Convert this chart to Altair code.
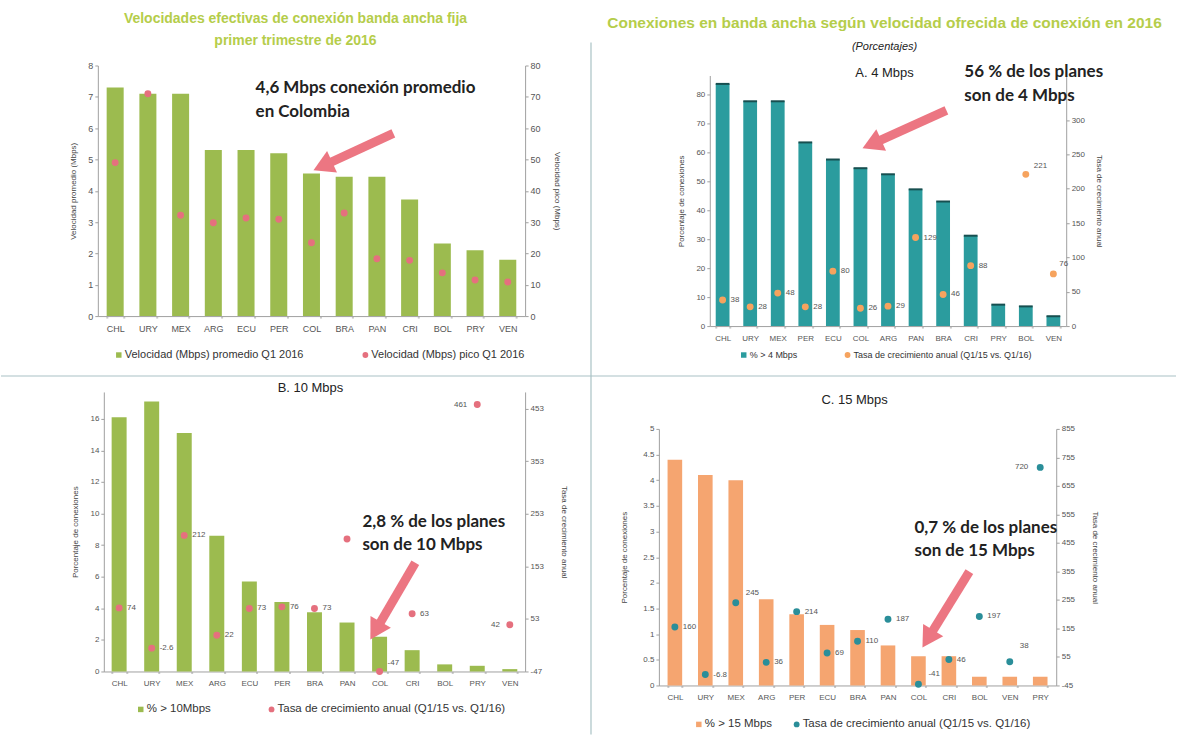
import math
import altair as alt
import pandas as pd

# ---------------- data ----------------
p1_countries = ["CHL", "URY", "MEX", "ARG", "ECU", "PER", "COL", "BRA", "PAN", "CRI", "BOL", "PRY", "VEN"]
p1_avg_mbps = [7.3, 7.1, 7.1, 5.3, 5.3, 5.2, 4.55, 4.45, 4.45, 3.72, 2.32, 2.1, 1.8]
p1_peak_mbps = [49, 71, 32.2, 29.8, 31.3, 30.9, 23.4, 32.9, 18.3, 17.8, 13.8, 11.5, 10.9]

a_countries = ["CHL", "URY", "MEX", "PER", "ECU", "COL", "ARG", "PAN", "BRA", "CRI", "PRY", "BOL", "VEN"]
a_share = [83.6, 77.6, 77.6, 63.4, 57.5, 54.5, 52.4, 47.2, 43.0, 31.2, 7.4, 6.8, 3.4]
a_growth = [38, 28, 48, 28, 80, 26, 29, 129, 46, 88, None, 221, 76]
a_labels = ["38", "28", "48", "28", "80", "26", "29", "129", "46", "88", "", "221", "76"]

b_countries = ["CHL", "URY", "MEX", "ARG", "ECU", "PER", "BRA", "PAN", "COL", "CRI", "BOL", "PRY", "VEN"]
b_share = [16.1, 17.1, 15.1, 8.6, 5.7, 4.4, 3.75, 3.1, 2.2, 1.35, 0.45, 0.36, 0.15]
b_growth = [74, -2.6, 212, 22, 73, 76, 73, 205, -47, 63, None, 461, 42]
b_labels = ["74", "-2.6", "212", "22", "73", "76", "73", "", "-47", "63", "", "461", "42"]

c_countries = ["CHL", "URY", "MEX", "ARG", "PER", "ECU", "BRA", "PAN", "COL", "CRI", "BOL", "VEN", "PRY"]
c_share = [4.4, 4.1, 4.0, 1.68, 1.39, 1.18, 1.08, 0.78, 0.57, 0.57, 0.17, 0.17, 0.17]
c_growth = [160, -6.8, 245, 36, 214, 69, 110, 187, -41, 46, 197, 38, 720]
c_labels = ["160", "-6.8", "245", "36", "214", "69", "110", "187", "-41", "46", "197", "38", "720"]

# ---------------- style ----------------
NARROW = "'Liberation Sans Narrow', 'Liberation Sans', Arial, sans-serif"
SANS = "'Liberation Sans', Arial, sans-serif"
CAL = "Lato, 'Open Sans', sans-serif"
GREEN = "#9cbb4f"
PINK = "#e5707e"
TEAL = "#2b9c9e"
ORANGE_PT = "#f6a35e"
ORANGE_BAR = "#f5a570"
TEAL_PT = "#2a8e99"
ARROW = "#ec7682"
TITLE_GREEN = "#b5cd4a"
TXT = "#444444"

ONE = pd.DataFrame({"k": [0]})


def vtext(x, y, s, size=10, color=TXT, weight="normal", font=SANS, align="left", style=None):
    kw = dict(text=s, fontSize=size, color=color, fontWeight=weight, font=font,
              align=align, baseline="middle")
    if style:
        kw["fontStyle"] = style
    return alt.Chart(ONE).mark_text(**kw).encode(x=alt.value(x), y=alt.value(y))


def arrow(tail, head, color=ARROW, width=9, size=560):
    dx, dy = head[0] - tail[0], head[1] - tail[1]
    L = math.hypot(dx, dy)
    ux, uy = dx / L, dy / L
    r = math.sqrt(size) / 2
    h = 0.866 * r
    cx, cy = head[0] - h * ux, head[1] - h * uy
    ang = math.degrees(math.atan2(dx, -dy)) % 360
    shaft = alt.Chart(ONE).mark_rule(color=color, strokeWidth=width, strokeCap="butt").encode(
        x=alt.value(tail[0]), y=alt.value(tail[1]), x2=alt.value(cx), y2=alt.value(cy))
    tip = alt.Chart(ONE).mark_point(shape="triangle-up", filled=True, size=size, angle=ang,
                                    color=color, opacity=1, strokeWidth=0).encode(
        x=alt.value(cx), y=alt.value(cy))
    return [shaft, tip]


def legend(ox, oy, items, size):
    out = []
    for (x, y, kind, color, label) in items:
        if kind == "square":
            m = alt.Chart(ONE).mark_square(color=color, size=30, opacity=1)
        else:
            m = alt.Chart(ONE).mark_circle(color=color, size=34, opacity=1)
        out.append(m.encode(x=alt.value(x - ox), y=alt.value(y - oy)))
        out.append(vtext(x - ox + 6, y - oy, label, size=size, font=NARROW, color="#333"))
    return out


def panel(countries, bars, pts, labels, *, width, height, top, xrange, pin, pout,
          bar_color, bar_domain, bar_ticks, bar_title, pt_color, pt_domain, pt_ticks, pt_title,
          lpad, rpad, label_rules, extras, tick_font=8, left_offset=0, label_font=8, cap=None):
    df = pd.DataFrame({"country": countries, "bar": bars, "pt": pts, "label": labels})
    yr = [height, top]
    x = alt.X("country:N", sort=countries, title=None,
              scale=alt.Scale(range=xrange, paddingInner=pin, paddingOuter=pout),
              axis=alt.Axis(labelAngle=0, labelFontSize=tick_font, tickBand="extent", tickSize=2,
                            tickWidth=2, tickColor="#c8c8c8", labelPadding=6, domainColor="#a0a0a0",
                            labelFont=NARROW, labelColor="#555"))
    base = alt.Chart(df).encode(x=x)
    bar_axis = alt.Axis(orient="left", values=bar_ticks, title=bar_title, labelExpr="datum.value",
                        labelFontSize=tick_font, titlePadding=lpad, offset=left_offset,
                        tickSize=3, grid=False)
    by = alt.Y("bar:Q", scale=alt.Scale(domain=bar_domain, range=yr, nice=False), axis=bar_axis)
    b = base.mark_bar(color=bar_color).encode(y=by)
    if cap:
        b = alt.layer(b, base.mark_tick(color=cap, thickness=2, size=cap_size(xrange, pin, pout, len(countries)),
                                        opacity=1).encode(y=by))
    pt_axis = alt.Axis(orient="right", values=pt_ticks, title=pt_title, labelExpr="datum.value",
                       labelFontSize=tick_font, titlePadding=rpad, tickSize=3, grid=False)
    py = alt.Y("pt:Q", scale=alt.Scale(domain=pt_domain, range=yr, nice=False, zero=False), axis=pt_axis)
    p = base.mark_circle(color=pt_color, size=48, opacity=1).encode(y=py)
    inner = [p]
    if label_rules is not None:
        special = []
        for (cs, align, dx, dy) in label_rules:
            special += cs
            lst = ",".join("'%s'" % c for c in cs)
            inner.append(base.mark_text(align=align, dx=dx, dy=dy, fontSize=label_font, color="#555",
                                        font=NARROW, baseline="middle")
                         .encode(y=py, text="label:N")
                         .transform_filter("indexof([%s], datum.country) >= 0" % lst))
        lst = ",".join("'%s'" % c for c in special) if special else "'__'"
        inner.append(base.mark_text(align="left", dx=8, fontSize=label_font, color="#555",
                                    font=NARROW, baseline="middle")
                     .encode(y=py, text="label:N")
                     .transform_filter("indexof([%s], datum.country) < 0" % lst))
    pts_layer = alt.layer(*inner) if len(inner) > 1 else p
    return alt.layer(b, pts_layer, *extras).resolve_scale(y="independent").properties(
        width=width, height=height)


def cap_size(xrange, pin, pout, n):
    step = (xrange[1] - xrange[0]) / (n - pin + 2 * pout)
    return step * (1 - pin)


# ---------------- panel 1 (origin 97,65) ----------------
o1 = (97, 65)
ex1 = [
    alt.Chart(ONE).mark_rule(strokeOpacity=0).encode(
        x=alt.value(-97), y=alt.value(-65), x2=alt.value(-96), y2=alt.value(-64)),
    vtext(295 - o1[0], 18 - o1[1], "Velocidades efectivas de conexión banda ancha fija", size=14,
          color=TITLE_GREEN, weight="bold", align="center"),
    vtext(295 - o1[0], 40 - o1[1], "primer trimestre de 2016", size=14, color=TITLE_GREEN,
          weight="bold", align="center"),
    vtext(255 - o1[0], 88 - o1[1], "4,6 Mbps conexión promedio", size=17, color="#222",
          weight="bold", font=CAL),
    vtext(255 - o1[0], 112 - o1[1], "en Colombia", size=17, color="#222", weight="bold", font=CAL),
] + arrow((393 - o1[0], 133 - o1[1]), (313 - o1[0], 170 - o1[1])) + legend(
    o1[0], o1[1],
    [(118, 355, "square", GREEN, "Velocidad (Mbps) promedio Q1 2016"),
     (365, 355, "circle", PINK, "Velocidad (Mbps) pico Q1 2016")], 11)

p1 = panel(p1_countries, p1_avg_mbps, p1_peak_mbps, [""] * 13,
           width=428, height=251, top=0, xrange=[0, 428], pin=0.48, pout=0.27,
           bar_color=GREEN, bar_domain=[0, 8], bar_ticks=list(range(0, 9)),
           bar_title="Velocidad promedio (Mbps)",
           pt_color=PINK, pt_domain=[0, 80], pt_ticks=list(range(0, 81, 10)),
           pt_title="Velocidad pico (Mbps)", lpad=10, rpad=12, label_rules=None, extras=ex1,
           tick_font=9)

# ---------------- panel A (origin 659,65; plot starts at 710) ----------------
oA = (659, 65)
exA = [
    vtext(885 - oA[0], 22 - oA[1],
          "Conexiones en banda ancha según velocidad ofrecida de conexión en 2016", size=15.5,
          color=TITLE_GREEN, weight="bold", align="center"),
    vtext(885 - oA[0], 46 - oA[1], "(Porcentajes)", size=11, color="#222", style="italic",
          align="center"),
    vtext(885 - oA[0], 73 - oA[1], "A. 4 Mbps", size=13, color="#222", align="center"),
    vtext(965 - oA[0], 72 - oA[1], "56 % de los planes", size=17, color="#222", weight="bold", font=CAL),
    vtext(965 - oA[0], 96 - oA[1], "son de 4 Mbps", size=17, color="#222", weight="bold", font=CAL),
] + arrow((947 - oA[0], 110 - oA[1]), (863 - oA[0], 148 - oA[1])) + legend(
    oA[0], oA[1],
    [(744, 355, "square", TEAL, "% > 4 Mbps"),
     (848, 355, "circle", ORANGE_PT, "Tasa de crecimiento anual (Q1/15 vs. Q1/16)")], 9)

pA = panel(a_countries, a_share, a_growth, a_labels,
           width=408, height=261, top=10, xrange=[51, 408], pin=0.5, pout=0.215,
           bar_color=TEAL, bar_domain=[0, 86.5], bar_ticks=list(range(0, 81, 10)),
           bar_title="Porcentaje de conexiones",
           pt_color=ORANGE_PT, pt_domain=[0, 365], pt_ticks=list(range(0, 301, 50)),
           pt_title="Tasa de crecimiento anual", lpad=10, rpad=10, left_offset=-51,
           label_rules=[(["BOL"], "left", 8, -8), (["VEN"], "left", 6, -10)], extras=exA,
           cap="#174f50")

# ---------------- panel B (origin 97,392) ----------------
oB = (97, 392)
exB = [
    alt.Chart(ONE).mark_rule(color="#a9c2c5", strokeWidth=1.2).encode(
        x=alt.value(0 - oB[0]), x2=alt.value(1177 - oB[0]),
        y=alt.value(376 - oB[1]), y2=alt.value(376 - oB[1])),
    alt.Chart(ONE).mark_rule(color="#a9c2c5", strokeWidth=1.2).encode(
        x=alt.value(591 - oB[0]), x2=alt.value(591 - oB[0]),
        y=alt.value(42 - oB[1]), y2=alt.value(735 - oB[1])),
    vtext(310 - oB[0], 388 - oB[1], "B. 10 Mbps", size=13, color="#222", align="center"),
    vtext(362 - oB[0], 522 - oB[1], "2,8 % de los planes", size=17, color="#222", weight="bold", font=CAL),
    vtext(362 - oB[0], 545 - oB[1], "son de 10 Mbps", size=17, color="#222", weight="bold", font=CAL),
] + arrow((415 - oB[0], 563 - oB[1]), (370 - oB[0], 640 - oB[1])) + legend(
    oB[0], oB[1],
    [(140, 710, "square", GREEN, "% > 10Mbps"),
     (271, 710, "circle", PINK, "Tasa de crecimiento anual (Q1/15 vs. Q1/16)")], 11.5)

pB = panel(b_countries, b_share, b_growth, b_labels,
           width=428, height=280, top=0, xrange=[6, 428], pin=0.54, pout=0.24,
           bar_color=GREEN, bar_domain=[0, 17.7], bar_ticks=list(range(0, 17, 2)),
           bar_title="Porcentaje de conexiones",
           pt_color=PINK, pt_domain=[-47, 485], pt_ticks=[-47, 53, 153, 253, 353, 453],
           pt_title="Tasa de crecimiento anual", lpad=10, rpad=16, left_offset=-6,
           label_rules=[(["PRY", "VEN"], "right", -10, 0), (["COL"], "left", 8, -8)], extras=exB)

# ---------------- panel C (origin 659,392) ----------------
oC = (659, 392)
exC = [
    vtext(855 - oC[0], 400 - oC[1], "C. 15 Mbps", size=13, color="#222", align="center"),
    vtext(915 - oC[0], 528 - oC[1], "0,7 % de los planes", size=17, color="#222", weight="bold", font=CAL),
    vtext(915 - oC[0], 551 - oC[1], "son de 15 Mbps", size=17, color="#222", weight="bold", font=CAL),
] + arrow((970 - oC[0], 572 - oC[1]), (923 - oC[0], 648 - oC[1])) + legend(
    oC[0], oC[1],
    [(699, 725, "square", ORANGE_BAR, "% > 15 Mbps"),
     (797, 725, "circle", TEAL_PT, "Tasa de crecimiento anual (Q1/15 vs. Q1/16)")], 11.5)

pC = panel(c_countries, c_share, c_growth, c_labels,
           width=398, height=294, top=37, xrange=[0, 398], pin=0.52, pout=0.285,
           bar_color=ORANGE_BAR, bar_domain=[0, 5], bar_ticks=[i / 2 for i in range(0, 11)],
           bar_title="Porcentaje de conexiones",
           pt_color=TEAL_PT, pt_domain=[-45, 855], pt_ticks=list(range(-45, 856, 100)),
           pt_title="Tasa de crecimiento anual", lpad=14, rpad=16,
           label_rules=[(["PRY"], "right", -12, 0), (["VEN"], "left", 10, -16),
                        (["MEX", "COL"], "left", 10, -10)], extras=exC)

chart = (
    alt.concat(p1, pA, pB, pC, columns=2, spacing={"row": 66, "column": 134},
               bounds="flush", align="each")
    .properties(padding=0, background="white")
    .configure_view(strokeWidth=0)
    .configure_axis(labelFont=NARROW, labelColor="#555", titleFont=NARROW, titleFontSize=8,
                    titleFontWeight="normal", titleColor="#444", domainColor="#a0a0a0",
                    tickColor="#a0a0a0", grid=False)
)

chart.save("out.html", embed_options={"renderer": "svg", "actions": False})
